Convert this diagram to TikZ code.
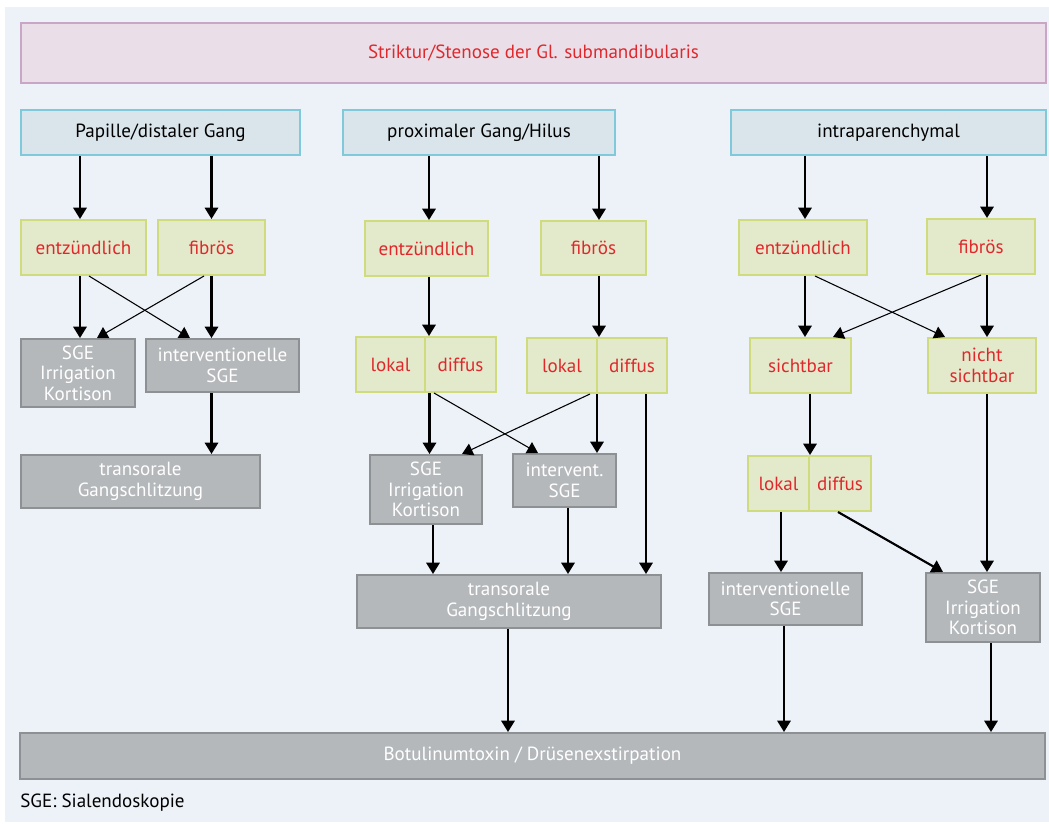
\documentclass[tikz,border=0pt]{standalone}
\usepackage{fontspec}
\setmainfont{PT Sans}
\usetikzlibrary{arrows.meta}
\definecolor{bgcol}{HTML}{EDF2F9}
\definecolor{pinkfill}{HTML}{EADFE8}
\definecolor{pinkline}{HTML}{C9A6C5}
\definecolor{bluefill}{HTML}{D9E5EA}
\definecolor{blueline}{HTML}{7FC9DB}
\definecolor{grnfill}{HTML}{E3EACC}
\definecolor{grnline}{HTML}{CFDB7C}
\definecolor{gryfill}{HTML}{B5B8BB}
\definecolor{gryline}{HTML}{8E9194}
\definecolor{redtxt}{HTML}{E0282C}
\newlength\px
\setlength\px{0.75pt}
\begin{document}
\begin{tikzpicture}[x=0.75pt,y=-0.75pt,
  every node/.style={font=\fontsize{14.3}{15.5}\selectfont,inner sep=0pt,align=center},
  bx/.style={draw,line width=1.5pt},
  titlebox/.style={bx,fill=pinkfill,draw=pinkline,text=redtxt},
  lvlbox/.style={bx,fill=bluefill,draw=blueline},
  grnbox/.style={bx,fill=grnfill,draw=grnline,text=redtxt},
  grybox/.style={bx,fill=gryfill,draw=gryline,text=white},
  arr/.style={-{Triangle[length=8.5pt,width=10pt]},line width=1.6pt},
  thinarr/.style={-{Triangle[length=8pt,width=9.5pt]},line width=0.8pt}]
\useasboundingbox (0,0) rectangle (1049,824);
\fill[bgcol] (5,7) rectangle (1049,822);
% top
\node[titlebox,minimum width=1025\px,minimum height=60\px] (top) at (533.5,53) {Striktur/Stenose der Gl. submandibularis};
\node[lvlbox,minimum width=279\px,minimum height=45\px] (lblue) at (160.5,132.5) {Papille/distaler Gang};
\node[lvlbox,minimum width=272\px,minimum height=45\px] (mblue) at (479,132.5) {proximaler Gang/Hilus};
\node[lvlbox,minimum width=315\px,minimum height=45\px] (rblue) at (888.5,132.5) {intraparenchymal};
% left: Papille/distaler Gang
\node[grnbox,minimum width=125\px,minimum height=55\px] (lent) at (83.5,247.5) {entzündlich};
\node[grnbox,minimum width=107\px,minimum height=55\px] (lfib) at (211.5,247.5) {fibrös};
\node[grybox,minimum width=114\px,minimum height=68\px] (lsge) at (78,373) {SGE\\Irrigation\\Kortison};
\node[grybox,minimum width=153\px,minimum height=53\px] (lint) at (222.5,365.5) {interventionelle\\SGE};
\node[grybox,minimum width=239\px,minimum height=53\px] (ltrans) at (140.5,481.5) {transorale\\Gangschlitzung};
\draw[arr] ([xshift=-3.5\px]lent.north |- lblue.south) -- ([xshift=-3.5\px]lent.north);
\draw[arr] (lfib.north |- lblue.south) -- (lfib.north);
\draw[arr] ([xshift=-3.5\px]lent.south) -- ([xshift=-3.5\px]lent.south |- lsge.north);
\draw[arr] (lfib.south) -- (lfib.south |- lint.north);
\draw[thinarr] ([xshift=5.5\px]lent.south) -- ([xshift=-32.5\px]lint.north);
\draw[thinarr] ([xshift=-7.5\px]lfib.south) -- ([xshift=19\px]lsge.north);
\draw[arr] (lfib |- lint.south) -- (lfib |- ltrans.north);
% middle: proximaler Gang/Hilus
\node[grnbox,minimum width=123\px,minimum height=55\px] (ment) at (426.5,248.5) {entzündlich};
\node[grnbox,minimum width=105\px,minimum height=54\px] (mfib) at (593.5,248) {fibrös};
\node[grnbox,minimum width=69\px,minimum height=55\px] (mlok1) at (390.5,364.5) {lokal};
\node[grnbox,minimum width=71\px,minimum height=55\px] (mdif1) at (460.5,364.5) {diffus};
\node[grnbox,minimum width=70\px,minimum height=55\px] (mlok2) at (562,365.5) {lokal};
\node[grnbox,minimum width=70\px,minimum height=55\px] (mdif2) at (632,365.5) {diffus};
\node[grybox,minimum width=112\px,minimum height=69\px] (msge) at (426,489.5) {SGE\\Irrigation\\Kortison};
\node[grybox,minimum width=103\px,minimum height=53\px] (mint) at (564.5,480.5) {intervent.\\SGE};
\node[grybox,minimum width=304\px,minimum height=53\px] (mtrans) at (509,601.5) {transorale\\Gangschlitzung};
\draw[arr] ([xshift=2.5\px]ment.north |- mblue.south) -- ([xshift=2.5\px]ment.north);
\draw[arr] ([xshift=5.5\px]mfib.north |- mblue.south) -- ([xshift=5.5\px]mfib.north);
\draw[arr] ([xshift=2.5\px]ment.south) -- ([xshift=2.5\px]ment.south |- mlok1.north);
\draw[arr] ([xshift=5.5\px]mfib.south) -- ([xshift=5.5\px]mfib.south |- mlok2.north);
\draw[arr] ([xshift=3.5\px]mlok1.south east) -- ([xshift=3.5\px]mlok1.south east |- msge.north);
\draw[thinarr] ([xshift=-26.5\px]mdif1.south) -- ([xshift=-26.5\px]mint.north);
\draw[thinarr] ([xshift=28\px]mlok2.south) -- ([xshift=36\px]msge.north);
\draw[arr] ([xshift=-1\px]mlok2.south east) -- ([xshift=-1\px]mlok2.south east |- mint.north);
\draw[arr] ([xshift=14\px]mdif2.south) -- ([xshift=14\px]mdif2.south |- mtrans.north);
\draw[arr] ([xshift=7\px]msge.south) -- ([xshift=7\px]msge.south |- mtrans.north);
\draw[arr] ([xshift=3.5\px]mint.south) -- ([xshift=3.5\px]mint.south |- mtrans.north);
% right: intraparenchymal
\node[grnbox,minimum width=128\px,minimum height=55\px] (rent) at (803,247.5) {entzündlich};
\node[grnbox,minimum width=108\px,minimum height=55\px] (rfib) at (981,246.5) {fibrös};
\node[grnbox,minimum width=101\px,minimum height=55\px] (rsicht) at (800.5,365.5) {sichtbar};
\node[grnbox,minimum width=108\px,minimum height=55\px] (rnicht) at (982,365.5) {nicht\\sichtbar};
\node[grnbox,minimum width=61\px,minimum height=55\px] (rlok) at (778.5,483.5) {lokal};
\node[grnbox,minimum width=62\px,minimum height=55\px] (rdif) at (840,483.5) {diffus};
\node[grybox,minimum width=153\px,minimum height=52\px] (rint) at (785.5,599) {interventionelle\\SGE};
\node[grybox,minimum width=114\px,minimum height=69\px] (rsge) at (983,607.5) {SGE\\Irrigation\\Kortison};
\draw[arr] ([xshift=2\px]rent.north |- rblue.south) -- ([xshift=2\px]rent.north);
\draw[arr] ([xshift=6\px]rfib.north |- rblue.south) -- ([xshift=6\px]rfib.north);
\draw[arr] ([xshift=2\px]rent.south) -- ([xshift=2\px]rent.south |- rsicht.north);
\draw[arr] ([xshift=6\px]rfib.south) -- ([xshift=6\px]rfib.south |- rnicht.north);
\draw[thinarr] ([xshift=12\px]rent.south) -- ([xshift=-37\px]rnicht.north);
\draw[thinarr] (rfib.south) -- ([xshift=32.5\px]rsicht.north);
\draw[arr] (rlok.north east |- rsicht.south) -- (rlok.north east);
\draw[arr] ([xshift=2.5\px]rlok.south) -- ([xshift=2.5\px]rlok.south |- rint.north);
\draw[arr] ([xshift=-2\px]rdif.south) -- ([xshift=-40\px]rsge.north);
\draw[arr] ([xshift=5\px]rnicht.south) -- ([xshift=5\px]rnicht.south |- rsge.north);
% bottom
\node[grybox,minimum width=1025\px,minimum height=46\px] (bot) at (532.5,756) {Botulinumtoxin / Drüsenexstirpation};
\node[anchor=west] (note) at (20,803) {SGE: Sialendoskopie};
\draw[arr] ([xshift=-1\px]mtrans.south) -- ([xshift=-1\px]mtrans.south |- bot.north);
\draw[arr] ([xshift=-1.5\px]rint.south) -- ([xshift=-1.5\px]rint.south |- bot.north);
\draw[arr] ([xshift=8\px]rsge.south) -- ([xshift=8\px]rsge.south |- bot.north);
\end{tikzpicture}
\end{document}
